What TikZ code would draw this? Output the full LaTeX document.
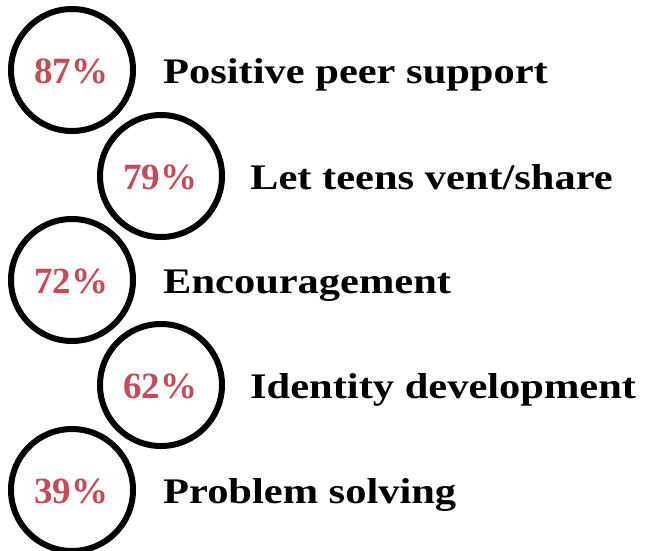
\documentclass[tikz,border=0pt]{standalone}
\usepackage{fontspec}
\setmainfont{Liberation Serif}
\newfontfamily\widefont[FakeStretch=1.18]{Liberation Serif}
\usepackage{xcolor}
\definecolor{pctred}{RGB}{200,74,88}

\tikzset{
    ring/.style={circle, draw=black, line width=6pt, minimum size=122pt, inner sep=0pt},
    pct/.style={anchor=base, inner sep=0pt, text=pctred, font=\fontsize{37}{40}\selectfont\bfseries},
    item/.style={anchor=base west, inner sep=0pt, font=\widefont\fontsize{36}{40}\selectfont\bfseries}
}

\begin{document}
\begin{tikzpicture}[x=1pt, y=-1pt]
    \useasboundingbox (0,0) rectangle (655,550);
    \node[ring] (r1) at (72,70) {};
    \node[pct] (p1) at (71,83) {87\%};
    \node[item] (t1) at (163,83) {Positive peer support};

    \node[ring] (r2) at (161,176) {};
    \node[pct] (p2) at (160,189) {79\%};
    \node[item] (t2) at (250,189) {Let teens vent/share};

    \node[ring] (r3) at (72,280) {};
    \node[pct] (p3) at (71,293) {72\%};
    \node[item] (t3) at (163,293) {Encouragement};

    \node[ring] (r4) at (161,385) {};
    \node[pct] (p4) at (160,398) {62\%};
    \node[item] (t4) at (250,398) {Identity development};

    \node[ring] (r5) at (72,490) {};
    \node[pct] (p5) at (71,503) {39\%};
    \node[item] (t5) at (163,503) {Problem solving};
\end{tikzpicture}
\end{document}
